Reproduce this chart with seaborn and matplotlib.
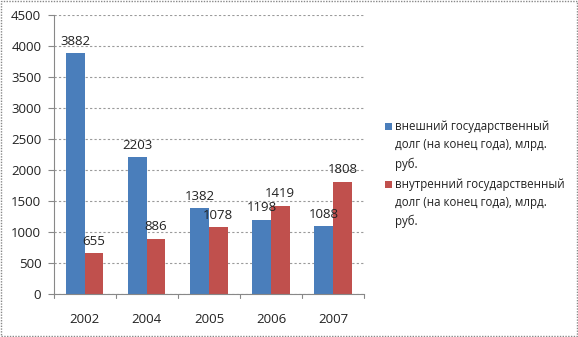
import matplotlib
matplotlib.use("Agg")
import matplotlib.pyplot as plt
import matplotlib.patches as mpatches
import pandas as pd
import seaborn as sns

years = ["2002", "2004", "2005", "2006", "2007"]
external_debt = [3882, 2203, 1382, 1198, 1088]
internal_debt = [655, 886, 1078, 1419, 1808]
series_names = [
    "внешний государственный\nдолг (на конец года), млрд.\nруб.",
    "внутренний государственный\nдолг (на конец года), млрд.\nруб.",
]
y_ticks = [0, 500, 1000, 1500, 2000, 2500, 3000, 3500, 4000, 4500]

colors = ["#4A7EBB", "#C0504D"]

df = pd.DataFrame({
    "year": years * 2,
    "value": external_debt + internal_debt,
    "series": [series_names[0]] * len(years) + [series_names[1]] * len(years),
})

sns.set_theme(style="white")
plt.rcParams["font.family"] = ["Open Sans", "DejaVu Sans"]

fig = plt.figure(figsize=(5.78, 3.37), dpi=100)
ax = fig.add_axes([0.093, 0.128, 0.537, 0.827])

sns.barplot(data=df, x="year", y="value", hue="series", palette=colors,
            width=0.6, ax=ax, legend=False, saturation=1, linewidth=0)

ax.set_ylim(0, 4500)
ax.set_yticks(y_ticks)
ax.set_xlim(-0.5, len(years) - 0.5)
ax.set_xlabel("")
ax.set_ylabel("")
ax.tick_params(axis="both", labelsize=9.5, colors="#222222")
ax.tick_params(axis="y", left=True, length=4, color="#888888", width=0.8, pad=5)
ax.tick_params(axis="x", bottom=False, pad=8)
ax.yaxis.grid(True, linestyle=(0, (2, 2)), color="#9a9a9a", linewidth=0.8)
ax.set_axisbelow(True)
for side in ["top", "right"]:
    ax.spines[side].set_visible(False)
for side in ["left", "bottom"]:
    ax.spines[side].set_color("#888888")
    ax.spines[side].set_linewidth(0.8)

# small boundary ticks between categories on the x axis
for b in [i - 0.5 for i in range(len(years) + 1)]:
    ax.plot([b, b], [0, -60], color="#888888", lw=0.8, clip_on=False)

for container in ax.containers:
    ax.bar_label(container, fmt="%d", padding=4, fontsize=9.5, color="#222222")

# legend: small square markers aligned with the first line of each entry
entry_tops = [0.632, 0.46]
for c, name, top in zip(colors, series_names, entry_tops):
    fig.patches.append(mpatches.Rectangle((0.666, top - 0.018), 0.0115, 0.02,
                                          transform=fig.transFigure,
                                          facecolor=c, edgecolor="none"))
    fig.text(0.684, top + 0.012, name, fontsize=8.3, color="#222222",
             va="top", ha="left", linespacing=1.55)

# dotted frame around the whole figure
fig.patches.append(mpatches.Rectangle((0.002, 0.003), 0.996, 0.994,
                                      transform=fig.transFigure, fill=False,
                                      edgecolor="#888888", linestyle=(0, (1, 1)),
                                      linewidth=1.0))

fig.savefig("out.png", dpi=100)
